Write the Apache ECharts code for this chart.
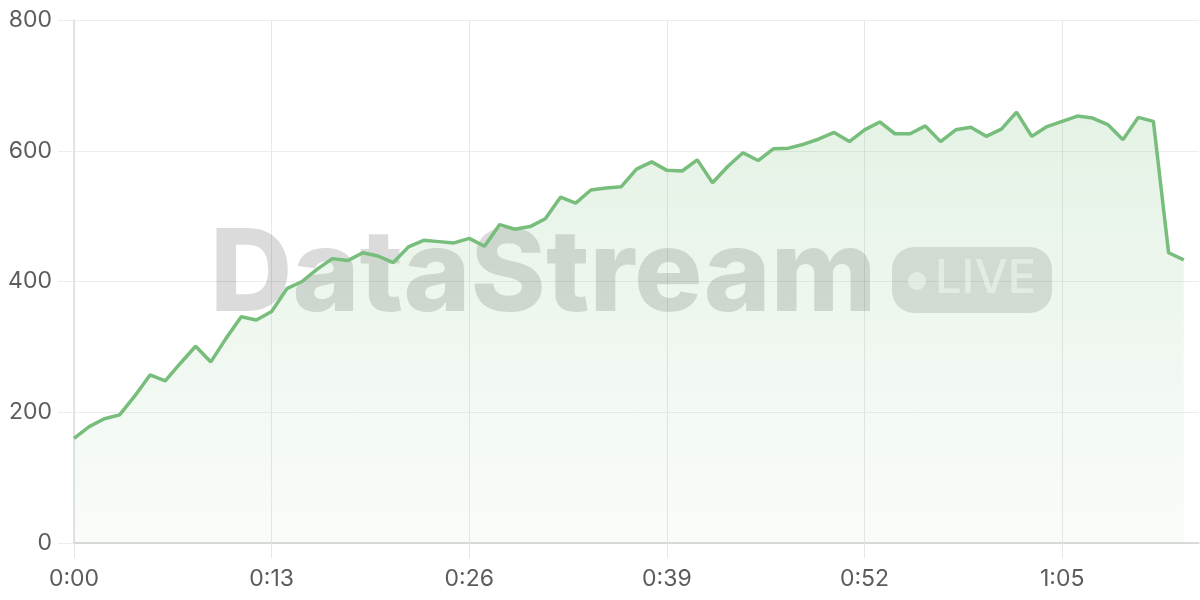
<!DOCTYPE html>
<html>
<head>
    <meta charset="utf-8">
    <title>DataStream</title>
    <script src="https://cdn.jsdelivr.net/npm/echarts@6/dist/echarts.min.js"></script>
    <style>
        html, body { margin: 0; padding: 0; background: #fff; }
        #chart { width: 1200px; height: 600px; }
    </style>
</head>
<body>
    <div id="chart"></div>
    <script type="text/javascript">
        // seconds on the x axis (one point per second, axis runs one step past the last point)
        var seconds = [];
        for (var s = 0; s <= 74; s++) seconds.push(s);

        // values
        var values = [160, 178, 190, 196, 225, 257, 248, 275, 301, 277,
                      313, 346, 341, 354, 389, 400, 419, 435, 432, 444,
                      439, 429, 453, 463, 461, 459, 466, 454, 487, 480,
                      484, 496, 529, 520, 540, 543, 545, 572, 583, 570,
                      569, 586, 551, 576, 597, 585, 603, 604, 610, 618,
                      628, 614, 632, 644, 626, 626, 638, 614, 632, 636,
                      622, 633, 659, 622, 637, 645, 653, 650, 640, 617,
                      651, 645, 444, 433];

        var yTicks = [0, 200, 400, 600, 800];

        var fmtTime = function (v) {
            var sec = Number(v);
            var m = Math.floor(sec / 60);
            var r = sec % 60;
            return m + ':' + (r < 10 ? '0' + r : r);
        };

        var myChart = echarts.init(document.getElementById('chart'));

        var option = {
            animation: false,
            textStyle: { fontFamily: 'Inter, "Noto Sans", sans-serif' },
            grid: { left: 74, right: 1, top: 20, bottom: 57 },
            xAxis: {
                type: 'category',
                boundaryGap: false,
                data: seconds,
                axisLine: { lineStyle: { color: '#cfcfcf', width: 1.5 } },
                axisTick: { interval: 12, length: 15, lineStyle: { color: '#e6e6e6' } },
                axisLabel: {
                    interval: 12, margin: 25, fontSize: 23, color: '#5c5c5c',
                    formatter: fmtTime
                },
                splitLine: { show: true, interval: 12, lineStyle: { color: '#e8e8e8' } }
            },
            yAxis: {
                type: 'value',
                min: yTicks[0],
                max: yTicks[yTicks.length - 1],
                interval: 200,
                axisLine: { show: true, lineStyle: { color: '#dcdcdc', width: 1.5 } },
                axisTick: { show: true, length: 16, lineStyle: { color: '#ececec' } },
                axisLabel: { margin: 22, fontSize: 23, color: '#5c5c5c' },
                splitLine: { lineStyle: { color: '#ececec' } }
            },
            graphic: [
                {
                    type: 'text', z: 1, left: 210, top: 220,
                    style: {
                        text: 'DataStream',
                        font: '800 114px Inter, "Liberation Sans", sans-serif',
                        fill: 'rgba(0,0,0,0.14)'
                    }
                },
                {
                    type: 'rect', z: 1,
                    shape: { x: 892, y: 247, width: 160, height: 66, r: 22 },
                    style: { fill: 'rgba(0,0,0,0.12)' }
                },
                {
                    type: 'circle', z: 1,
                    shape: { cx: 917, cy: 281, r: 9 },
                    style: { fill: 'rgba(255,255,255,0.6)' }
                },
                {
                    type: 'text', z: 1, left: 935, top: 255,
                    style: {
                        text: 'LIVE',
                        font: '500 47px Inter, "Liberation Sans", sans-serif',
                        fill: 'rgba(255,255,255,0.6)'
                    }
                }
            ],
            series: [
                {
                    type: 'line',
                    data: values,
                    showSymbol: false,
                    lineStyle: { color: '#77bd7b', width: 3.5 },
                    itemStyle: { color: '#77bd7b' },
                    areaStyle: {
                        color: new echarts.graphic.LinearGradient(0, 0, 0, 1, [
                            { offset: 0, color: 'rgba(119,189,123,0.28)' },
                            { offset: 1, color: 'rgba(119,189,123,0.06)' }
                        ])
                    }
                }
            ]
        };

        myChart.setOption(option);
    </script>
</body>
</html>
